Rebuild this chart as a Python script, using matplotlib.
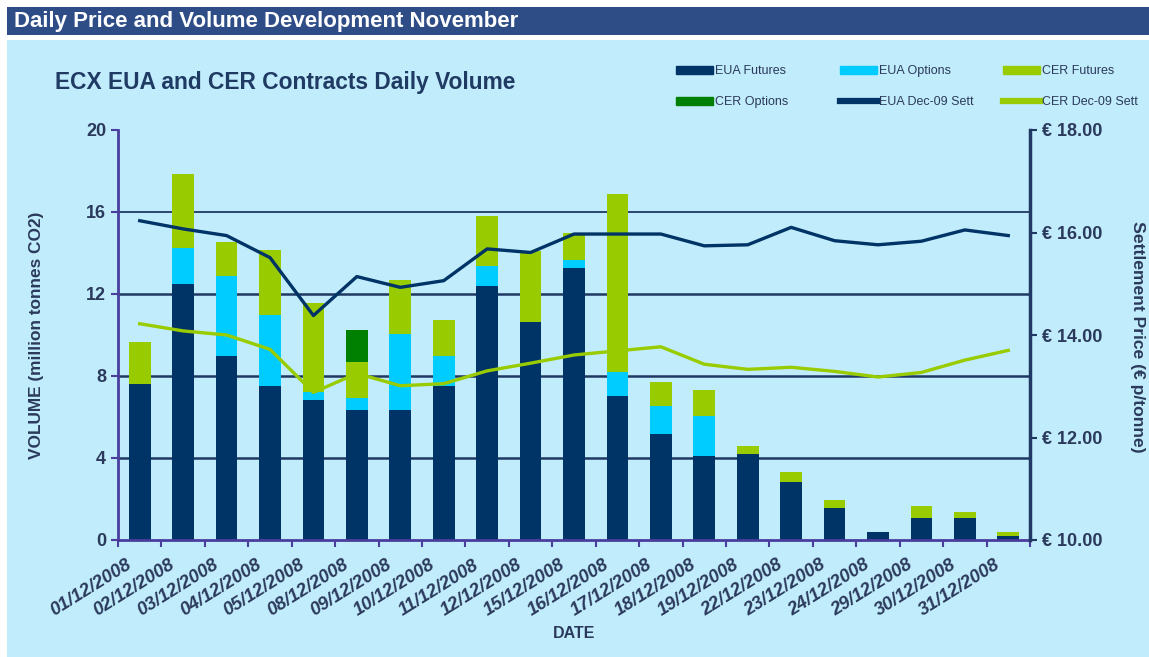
import numpy as np
import matplotlib
matplotlib.use('Agg')
import matplotlib.pyplot as plt
from matplotlib.patches import Rectangle, Patch
from matplotlib.lines import Line2D

plt.rcParams['font.family'] = ['Liberation Sans', 'DejaVu Sans']

# 日期与各类成交量（百万吨 CO2）
dates = ['01/12/2008', '02/12/2008', '03/12/2008', '04/12/2008', '05/12/2008',
         '08/12/2008', '09/12/2008', '10/12/2008', '11/12/2008', '12/12/2008',
         '15/12/2008', '16/12/2008', '17/12/2008', '18/12/2008', '19/12/2008',
         '22/12/2008', '23/12/2008', '24/12/2008', '29/12/2008', '30/12/2008',
         '31/12/2008']
eua_fut = [7.6, 12.47, 8.96, 7.5, 6.81, 6.33, 6.33, 7.5, 12.39, 10.62, 13.25,
           7.01, 5.16, 4.08, 4.18, 2.81, 1.55, 0.37, 1.06, 1.06, 0.18]
eua_opt = [0, 1.76, 3.9, 3.5, 0.39, 0.58, 3.7, 1.46, 0.96, 0, 0.39,
           1.17, 1.36, 1.95, 0, 0, 0, 0, 0, 0, 0]
cer_fut = [2.04, 3.62, 1.66, 3.15, 4.36, 1.76, 2.64, 1.76, 2.44, 3.48, 1.36,
           8.7, 1.17, 1.27, 0.39, 0.49, 0.39, 0, 0.58, 0.29, 0.19]
cer_opt = [0, 0, 0, 0, 0, 1.56, 0, 0, 0, 0, 0,
           0, 0, 0, 0, 0, 0, 0, 0, 0, 0]
# 结算价（欧元/吨）
eua_sett = [16.23, 16.07, 15.94, 15.51, 14.38, 15.14, 14.93, 15.06, 15.68, 15.61, 15.97,
            15.97, 15.97, 15.74, 15.76, 16.1, 15.84, 15.76, 15.83, 16.05, 15.94]
cer_sett = [14.22, 14.08, 14.0, 13.72, 12.88, 13.25, 13.01, 13.05, 13.3, 13.45, 13.61,
            13.69, 13.77, 13.43, 13.33, 13.37, 13.29, 13.18, 13.27, 13.51, 13.7]

NAVY = '#003366'
CYAN = '#00CCFF'
LIME = '#99CC00'
GREEN = '#008000'
BG = '#C1ECFB'
TXT = '#2B3A5C'
PURPLE = '#4B3D9E'

fig = plt.figure(figsize=(11.49, 6.57), dpi=100)
W, H = 1149, 657

# 页眉和背景
fig.patches.append(Rectangle((7 / W, 0), 1, (657 - 40) / H, transform=fig.transFigure,
                             facecolor=BG, edgecolor='none', zorder=-10))
fig.patches.append(Rectangle((7 / W, (657 - 35) / H), 1, 28 / H, transform=fig.transFigure,
                             facecolor='#2E4D87', edgecolor='none', zorder=-10))
fig.text(14 / W, 1 - 21 / H, 'Daily Price and Volume Development November', color='white',
         fontsize=16, fontweight='bold', va='center', ha='left')
fig.text(55 / W, 1 - 82 / H, 'ECX EUA and CER Contracts Daily Volume', color='#1F3A63',
         fontsize=16.4, fontweight='bold', va='center', ha='left')

ax = fig.add_axes([118 / W, 1 - 540 / H, 912 / W, 410 / H])
ax.patch.set_alpha(0)
x = np.arange(len(dates))
bottom = np.zeros(len(dates))
for vals, col in [(eua_fut, NAVY), (eua_opt, CYAN), (cer_fut, LIME), (cer_opt, GREEN)]:
    ax.bar(x, vals, 0.5, bottom=bottom, color=col, zorder=2)
    bottom += np.array(vals)

for yv in [4, 8, 12, 16]:
    ax.axhline(yv, color='#1F3864', lw=1.8 if yv != 16 else 1.3, zorder=1)

ax.set_xlim(-0.5, len(dates) - 0.5)
ax.set_ylim(0, 20)
ax.set_yticks([0, 4, 8, 12, 16, 20])
# 标签稍微偏左，与原图斜排日期对齐
ax.set_xticks(x - 0.23)
ax.set_xticklabels(dates, rotation=32, ha='right', va='center', rotation_mode='anchor',
                   fontsize=13.2, fontweight='bold', style='italic', color=TXT)
ax.set_xticks(np.arange(-0.5, len(dates)), minor=True)
ax.tick_params(axis='x', which='major', length=0, pad=17)
ax.tick_params(axis='x', which='minor', length=5, width=1.5, color=PURPLE)
ax.tick_params(axis='y', length=5, width=1.5, color=PURPLE, labelsize=13, labelcolor=TXT)
for lab in ax.get_yticklabels():
    lab.set_fontweight('bold')
for s in ['top', 'right']:
    ax.spines[s].set_visible(False)
ax.spines['left'].set_color(PURPLE)
ax.spines['left'].set_linewidth(2)
ax.spines['bottom'].set_color(PURPLE)
ax.spines['bottom'].set_linewidth(2)
ax.set_ylabel('VOLUME (million tonnes CO2)', fontsize=12.4, fontweight='bold', color=TXT,
              va='center')
ax.yaxis.set_label_coords((37 - 118) / 912, 0.5)
ax.set_xlabel('DATE', fontsize=11.5, fontweight='bold', color=TXT, va='center')
ax.xaxis.set_label_coords((574 - 118) / 912, (540 - 634) / 410)

ax2 = ax.twinx()
ax2.plot(x, eua_sett, color=NAVY, lw=2.4, zorder=3)
ax2.plot(x, cer_sett, color=LIME, lw=2.4, zorder=3)
ax2.set_ylim(10, 18)
ax2.set_yticks([10, 12, 14, 16, 18])
ax2.set_yticklabels(['€ {:.2f}'.format(v) for v in [10, 12, 14, 16, 18]],
                    fontsize=13, fontweight='bold', color=TXT)
ax2.tick_params(axis='y', length=5, width=1.5, color='#1F3864')
for s in ['top', 'left', 'bottom']:
    ax2.spines[s].set_visible(False)
ax2.spines['right'].set_color('#1F3864')
ax2.spines['right'].set_linewidth(2.5)
ax2.set_ylabel('Settlement Price (€ p/tonne)', fontsize=12.6, fontweight='bold', color=TXT,
               rotation=-90, va='center', ha='center')
ax2.yaxis.set_label_coords((1138 - 118) / 912, (540 - 337) / 410)

# 图例：三列，各两行
legend_cols = [
    ([Patch(color=NAVY), Patch(color=GREEN)], ['EUA Futures', 'CER Options'], 676),
    ([Patch(color=CYAN), Line2D([], [], color=NAVY, lw=4.5)], ['EUA Options', 'EUA Dec-09 Sett'], 840),
    ([Patch(color=LIME), Line2D([], [], color=LIME, lw=4.5)], ['CER Futures', 'CER Dec-09 Sett'], 1003),
]
for hs, ls, x0 in legend_cols:
    fig.legend(hs, ls, loc='upper left', bbox_to_anchor=(x0 / W, 1 - 65 / H),
               frameon=False, fontsize=9, handlelength=2.95, handleheight=0.6,
               handletextpad=0.2, labelspacing=1.55, borderpad=0, borderaxespad=0,
               labelcolor=TXT)

fig.savefig('out.png', dpi=100, facecolor='white')
